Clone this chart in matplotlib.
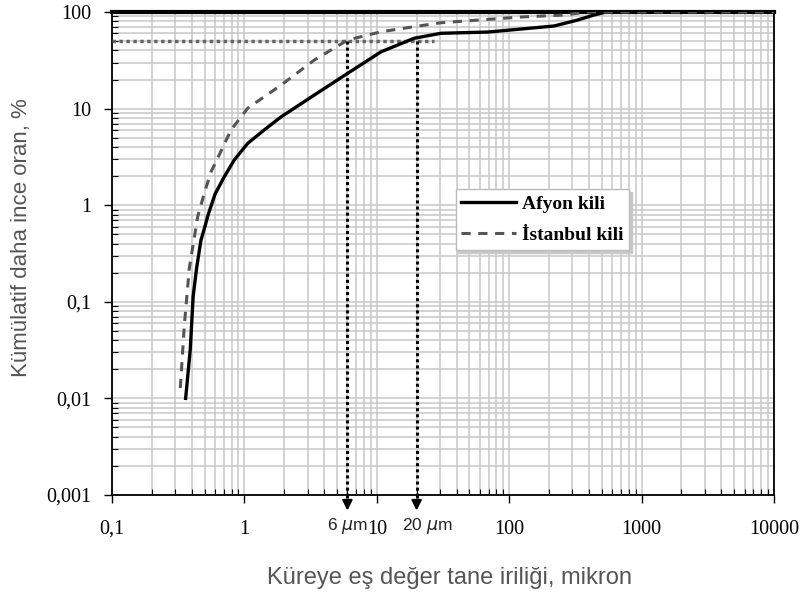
import matplotlib
matplotlib.use('Agg')
import matplotlib.pyplot as plt
from matplotlib.ticker import FixedLocator, FixedFormatter, LogLocator, NullFormatter
import matplotlib.transforms as mtransforms

# Afyon kili (sürekli çizgi)
afyon_x = [0.36, 0.375, 0.39, 0.40, 0.41, 0.435, 0.47, 0.50, 0.53, 0.60, 0.705, 0.839, 1.06,
           1.41, 1.89, 3.37, 6.03, 10.8, 19.2, 30.5, 69, 218, 329, 436, 540, 10000]
afyon_y = [0.01, 0.018, 0.032, 0.06, 0.113, 0.22, 0.436, 0.58, 0.78, 1.30, 1.97, 2.94, 4.37,
           6.0, 8.2, 13.8, 23.2, 38.8, 53.5, 60.2, 62, 71.6, 82.6, 93, 100, 100]

# İstanbul kili (kesikli çizgi)
istanbul_x = [0.328, 0.352, 0.384, 0.444, 0.498, 0.56, 0.645, 0.792, 1.06, 1.89,
              3.37, 6.03, 10.8, 19.2, 30.5, 123, 260, 380, 10000]
istanbul_y = [0.0128, 0.0575, 0.224, 0.76, 1.33, 2.22, 3.31, 6.0, 10.1, 17.5,
              31.8, 51.3, 62.5, 70.5, 77.4, 88.8, 93, 100, 100]

x_ticks = [0.1, 1, 10, 100, 1000, 10000]
x_labels = ['0,1', '1', '10', '100', '1000', '10000']
y_ticks = [0.001, 0.01, 0.1, 1, 10, 100]
y_labels = ['0,001', '0,01', '0,1', '1', '10', '100']

d50 = 50
d50_sizes = [6, 20]
d50_texts = [r'6 $\mu$m', r'20 $\mu$m']
hline_end = 27

fig = plt.figure(figsize=(8.01, 5.94), dpi=100)
ax = fig.add_axes([0.1398, 0.1667, 0.8265, 0.8131])
ax.set_xscale('log')
ax.set_yscale('log')
ax.set_xlim(0.1, 10000)
ax.set_ylim(0.001, 100)

ax.grid(True, which='both', color='#c8c8c8', lw=1.1)
ax.set_axisbelow(True)

ax.plot(afyon_x, afyon_y, color='black', lw=2.4, label='Afyon kili', zorder=4)
ax.plot(istanbul_x, istanbul_y, color='#555555', lw=2.2, dashes=(3, 2.5),
        label='İstanbul kili', zorder=4)

# d50 yatay çizgi
ax.plot([0.1, hline_end], [d50, d50], color='#666666', lw=2.5, ls=(0, (1, 1)), zorder=3)

trans = mtransforms.blended_transform_factory(ax.transData, ax.transAxes)
text_x = [6.05, 24]
for xv, tx, txt in zip(d50_sizes, text_x, d50_texts):
    ax.plot([xv, xv], [d50, 0.001], color='black', lw=2.2, ls=(0, (1, 1)), zorder=5)
    ax.plot([xv, xv], [0, -0.015], color='black', lw=2.2, ls=(0, (1, 1)),
            transform=trans, clip_on=False, zorder=5)
    ax.annotate('', xy=(xv, -0.038), xycoords=trans, xytext=(xv, -0.008), textcoords=trans,
                arrowprops=dict(arrowstyle='-|>,head_length=0.6,head_width=0.3',
                                color='black', lw=1.5), annotation_clip=False)
    ax.text(tx, -0.043, txt, transform=trans, ha='center', va='top',
            fontsize=12.5, family='Liberation Sans', color='#222222')

ax.xaxis.set_major_locator(FixedLocator(x_ticks))
ax.xaxis.set_major_formatter(FixedFormatter(x_labels))
ax.yaxis.set_major_locator(FixedLocator(y_ticks))
ax.yaxis.set_major_formatter(FixedFormatter(y_labels))
ax.xaxis.set_minor_locator(LogLocator(base=10, subs=range(2, 10), numticks=20))
ax.yaxis.set_minor_locator(LogLocator(base=10, subs=range(2, 10), numticks=20))
ax.xaxis.set_minor_formatter(NullFormatter())
ax.yaxis.set_minor_formatter(NullFormatter())

ax.tick_params(axis='x', which='major', direction='out', length=6, width=1, pad=12)
ax.tick_params(axis='y', which='major', direction='out', length=6, width=1, pad=8.5)
ax.tick_params(which='minor', direction='in', length=4, width=0.8)
for lab in ax.get_xticklabels() + ax.get_yticklabels():
    lab.set_family('Liberation Serif')
    lab.set_fontsize(14.5)

for s in ['left', 'bottom', 'right']:
    ax.spines[s].set_linewidth(1.3)
ax.spines['top'].set_linewidth(3)

ax.set_xlabel('Küreye eş değer tane iriliği, mikron', family='Liberation Sans',
              fontsize=17, color='#555555')
ax.set_ylabel('Kümülatif daha ince oran, %', family='Liberation Sans',
              fontsize=16, color='#555555')
ax.xaxis.set_label_coords(0.51, -0.15)
ax.yaxis.set_label_coords(-0.121, 0.533)

leg = ax.legend(loc='center', bbox_to_anchor=(0.650, 0.570), frameon=True, fancybox=False,
                shadow={'color': '#c8c8c8', 'alpha': 1},
                prop={'family': 'Liberation Serif', 'weight': 'bold', 'size': 14},
                handlelength=2.8, handletextpad=0.3, borderpad=0.3, labelspacing=0.7,
                borderaxespad=0)
leg.get_frame().set_edgecolor('#bbbbbb')
leg.get_frame().set_linewidth(1)

fig.savefig('out.png', dpi=100)
